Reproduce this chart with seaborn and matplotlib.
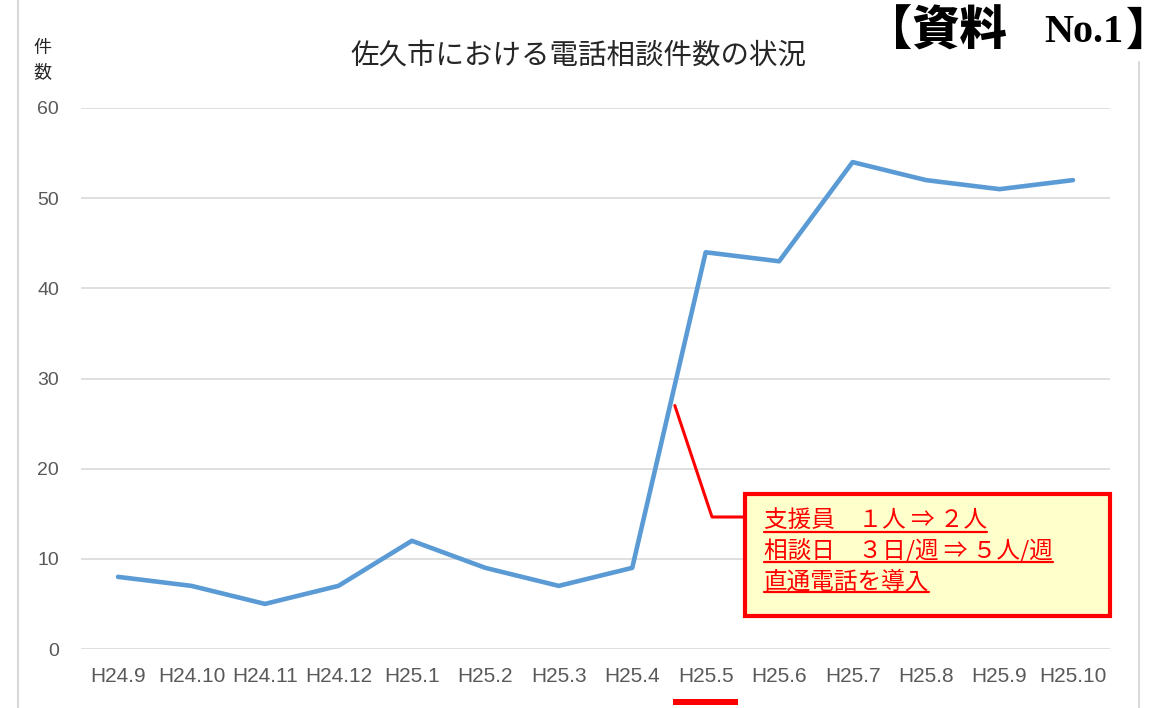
import matplotlib
matplotlib.use("Agg")
import matplotlib.pyplot as plt
import pandas as pd
import seaborn as sns
from matplotlib.lines import Line2D
from matplotlib.patches import Rectangle

months = ["H24.9", "H24.10", "H24.11", "H24.12", "H25.1", "H25.2", "H25.3",
          "H25.4", "H25.5", "H25.6", "H25.7", "H25.8", "H25.9", "H25.10"]
calls = [8, 7, 5, 7, 12, 9, 7, 9, 44, 43, 54, 52, 51, 52]

title = "佐久市における電話相談件数の状況"
ylabel = "件\n数"
doc_label = ("【資料", "No.1", "】")
note_lines = ["支援員　１人 ⇒ ２人", "相談日　３日/週 ⇒ ５人/週", "直通電話を導入"]

W, H = 1176, 708
JP = ["Noto Sans CJK JP", "DejaVu Sans"]

sns.set_theme(style="white")
plt.rcParams["font.family"] = JP

df = pd.DataFrame({"month": months, "calls": calls})

fig = plt.figure(figsize=(W / 100, H / 100), dpi=100)
ax = fig.add_axes([81.3 / W, 1 - 649 / H, (1109.7 - 81.3) / W, (649 - 108) / H])


def fx(px):
    return px / W


def fy(py):
    return 1 - py / H


sns.lineplot(data=df, x="month", y="calls", ax=ax, color="#5B9BD5", lw=3.3,
             sort=False)

ax.set_xlim(-0.5, len(months) - 0.5)
ax.set_ylim(0, 60)
ax.set_yticks(range(0, 61, 10))
ax.grid(axis="y", color="#D9D9D9", lw=1.2)
ax.set_axisbelow(True)
for s in ax.spines.values():
    s.set_visible(False)
ax.set_xlabel("")
ax.set_ylabel("")
ax.tick_params(axis="both", length=0, colors="#595959")
ax.tick_params(axis="y", pad=16, labelsize=14)
ax.tick_params(axis="x", pad=13, labelsize=15)
for lab in ax.get_xticklabels() + ax.get_yticklabels():
    lab.set_family(["Liberation Sans", "DejaVu Sans"])

# chart frame edges
fig.add_artist(Line2D([fx(18), fx(18)], [0, 1], color="#D9D9D9", lw=1.5))
fig.add_artist(Line2D([fx(1139), fx(1139)], [0, fy(62)], color="#D9D9D9", lw=1.5))

fig.text(fx(578), fy(56), title, ha="center", va="center", fontsize=20.5,
         color="#262626")
fig.text(fx(42), fy(60), ylabel, ha="center", va="center", fontsize=13,
         color="#262626", linespacing=1.5)

# document tag, top right
fig.text(fx(865), fy(31), doc_label[0], ha="left", va="center", fontsize=34,
         fontweight="black", color="black")
fig.text(fx(1044), fy(33), doc_label[1], ha="left", va="center", fontsize=29,
         fontweight="bold", color="black", family=["Liberation Serif"])
fig.text(fx(1126), fy(31), doc_label[2], ha="left", va="center", fontsize=32,
         fontweight="black", color="black")

# callout
box_l, box_t, box_r, box_b = 745, 494, 1110, 616
fig.add_artist(Rectangle((fx(box_l), fy(box_b)), fx(box_r - box_l), (box_b - box_t) / H,
                         facecolor="#FFFFCC", edgecolor="#FF0000", lw=3, zorder=5))
fig.canvas.draw()
px, py = ax.transData.transform((7.58, 27))
fig.add_artist(Line2D([px / W, fx(712), fx(box_l)], [py / H, fy(517), fy(517)],
                      color="#FF0000", lw=2.2, zorder=4))

renderer = fig.canvas.get_renderer()
for i, line in enumerate(note_lines):
    t = fig.text(fx(764), fy(520 + 31 * i), line, ha="left", va="center",
                 fontsize=17, color="#FF0000", zorder=6)
    bb = t.get_window_extent(renderer)
    uy = fy(532 + 30 * i)
    fig.add_artist(Line2D([bb.x0 / W, bb.x1 / W], [uy, uy], color="#FF0000",
                          lw=1.6, zorder=6))

# highlight under H25.5
fig.add_artist(Rectangle((fx(673), fy(705)), fx(65), 6 / H, facecolor="#FF0000",
                         edgecolor="none"))

fig.savefig("out.png", dpi=100)
